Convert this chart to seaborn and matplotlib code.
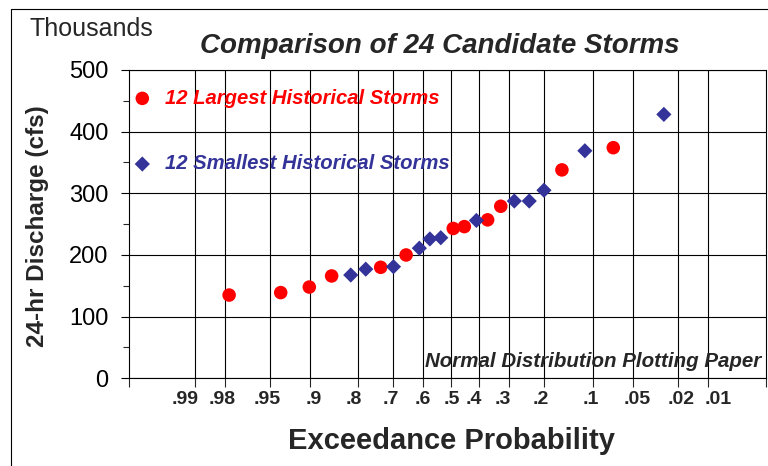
"""
Comparaison de 24 tempêtes candidates sur papier de probabilité normale
"""

import matplotlib
matplotlib.use("Agg")

from statistics import NormalDist
import pandas as pd
import matplotlib.pyplot as plt
from matplotlib.lines import Line2D
from matplotlib.ticker import MultipleLocator, FixedLocator
from matplotlib.transforms import ScaledTranslation
import seaborn as sns

# =========================
# DONNÉES
# =========================
largest_prob = [0.978, 0.939, 0.901, 0.861, 0.739, 0.659, 0.493, 0.453, 0.371, 0.327, 0.158, 0.071]
largest_flow = [135, 139, 148, 166, 180, 200, 243, 246, 257, 279, 338, 374]

smallest_prob = [0.819, 0.781, 0.700, 0.614, 0.577, 0.538, 0.410, 0.284, 0.240, 0.2005, 0.113, 0.027]
smallest_flow = [167.5, 177, 181, 211, 226, 228, 256, 287.5, 287.5, 305, 369, 428]

tick_probs = [0.99, 0.98, 0.95, 0.9, 0.8, 0.7, 0.6, 0.5, 0.4, 0.3, 0.2, 0.1, 0.05, 0.02, 0.01]
tick_labels = [".99", ".98", ".95", ".9", ".8", ".7", ".6", ".5", ".4", ".3", ".2", ".1", ".05", ".02", ".01"]

# décalage horizontal (px) des étiquettes, placées à la main dans l'original
label_shift_px = [-10, -3, -2.6, 4, -4.3, -2.7, -0.5, 0.6, -5, -6.3, -3.8, -1.6, 4, 3.7, 10]

RED = "#FF0000"
BLUE = "#333399"
W, H = 768, 466


def to_z(p):
    # probabilité de dépassement -> variable normale réduite
    return NormalDist().inv_cdf(1 - p)


df = pd.concat([
    pd.DataFrame({"z": [to_z(p) for p in largest_prob], "flow": largest_flow,
                  "group": "12 Largest Historical Storms"}),
    pd.DataFrame({"z": [to_z(p) for p in smallest_prob], "flow": smallest_flow,
                  "group": "12 Smallest Historical Storms"}),
])

# =========================
# STYLE
# =========================
sns.set_style("ticks")
plt.rcParams["font.family"] = ["Liberation Sans", "DejaVu Sans"]

fig = plt.figure(figsize=(W / 100, H / 100), dpi=100)
left, right, top, bottom = 129.3, 765.7, 70, 378.3
ax = fig.add_axes([left / W, 1 - bottom / H, (right - left) / W, (bottom - top) / H])

sns.scatterplot(data=df[df["group"].str.contains("Largest")], x="z", y="flow",
                marker="o", s=95, color=RED, edgecolor="none",
                label="12 Largest Historical Storms", ax=ax, zorder=3)
sns.scatterplot(data=df[df["group"].str.contains("Smallest")], x="z", y="flow",
                marker="D", s=60, color=BLUE, edgecolor="none",
                label="12 Smallest Historical Storms", ax=ax, zorder=3)

# -------- Axes
xmin, xmax = -2.919, 2.850
ax.set_xlim(xmin, xmax)
ax.set_ylim(0, 500)

ax.yaxis.set_major_locator(MultipleLocator(100))
ax.yaxis.set_minor_locator(MultipleLocator(50))
ax.xaxis.set_major_locator(FixedLocator([to_z(p) for p in tick_probs]))
ax.set_xticklabels(tick_labels, fontweight="bold", fontsize=14)
ax.xaxis.set_minor_locator(FixedLocator([xmin, xmax]))

ax.tick_params(axis="y", which="major", direction="out", length=6, width=0.8,
               labelsize=17, pad=9, colors="black")
ax.tick_params(axis="y", which="minor", direction="out", length=4, width=0.8)
ax.tick_params(axis="x", which="both", direction="out", length=6.5, width=0.8, pad=3)

ax.grid(True, which="major", color="black", linewidth=0.8)
ax.set_axisbelow(True)
for sp in ax.spines.values():
    sp.set_color("black")
    sp.set_linewidth(0.8)

ax.set_xlabel("")
ax.set_ylabel("")

for lab, dx in zip(ax.get_xticklabels(), label_shift_px):
    lab.set_transform(lab.get_transform() + ScaledTranslation(dx / 100, 0, fig.dpi_scale_trans))

# -------- Légende
leg = ax.legend(loc="upper left", bbox_to_anchor=(0.0045, 0.9393), frameon=False,
                prop={"weight": "bold", "style": "italic", "size": 14.6},
                handlelength=1.0, handletextpad=0.62, labelspacing=2.3,
                borderpad=0, borderaxespad=0)
for txt, c in zip(leg.get_texts(), [RED, BLUE]):
    txt.set_color(c)

# -------- Textes
fig.text(30 / W, 1 - 35.7 / H, "Thousands", fontsize=18, ha="left", va="baseline")
fig.text(440 / W, 1 - 53 / H, "Comparison of 24 Candidate Storms", fontsize=20,
         fontweight="bold", fontstyle="italic", ha="center", va="baseline")
fig.text(38 / W, 1 - 226 / H, "24-hr Discharge (cfs)", fontsize=17.5, fontweight="bold",
         rotation=90, ha="center", va="center")
fig.text(451.7 / W, 1 - 449.3 / H, "Exceedance Probability", fontsize=21, fontweight="bold",
         ha="center", va="baseline")
fig.text(761 / W, 1 - 361.7 / H, "Normal Distribution Plotting Paper", fontsize=14.8,
         fontweight="bold", fontstyle="italic", ha="right", va="center")

# -------- Cadre de la figure
fig.add_artist(Line2D([11 / W, 11 / W], [0, 1 - 9 / H], color="black", linewidth=0.8))
fig.add_artist(Line2D([11 / W, 1], [1 - 9 / H, 1 - 9 / H], color="black", linewidth=0.8))

fig.savefig("out.png", dpi=100)
plt.close(fig)
